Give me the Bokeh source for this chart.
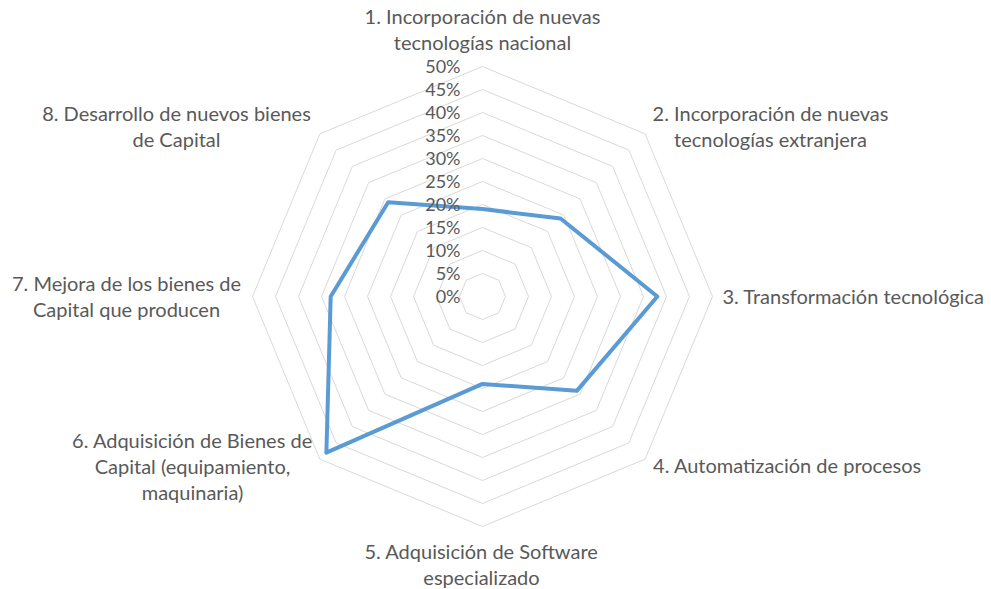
import math
from bokeh.plotting import figure
from bokeh.models import ColumnDataSource, Range1d
from bokeh.core.properties import value
from bokeh.embed import file_html
from bokeh.resources import INLINE

# ---- data ----
categories = [
    "1. Incorporación de nuevas\ntecnologías nacional",
    "2. Incorporación de nuevas\ntecnologías extranjera",
    "3. Transformación tecnológica",
    "4. Automatización de procesos",
    "5. Adquisición de Software\nespecializado",
    "6. Adquisición de Bienes de\nCapital (equipamiento,\nmaquinaria)",
    "7. Mejora de los bienes de\nCapital que producen",
    "8. Desarrollo de nuevos bienes\nde Capital",
]
values = [0.19, 0.24, 0.38, 0.29, 0.19, 0.48, 0.33, 0.29]
ring_levels = [0.05, 0.10, 0.15, 0.20, 0.25, 0.30, 0.35, 0.40, 0.45, 0.50]
tick_levels = [0.0, 0.05, 0.10, 0.15, 0.20, 0.25, 0.30, 0.35, 0.40, 0.45, 0.50]
tick_labels = ["0%", "5%", "10%", "15%", "20%", "25%", "30%", "35%", "40%", "45%", "50%"]

# ---- layout ----
W, H = 991, 589
CX, CY = 482, 296          # centre in screenshot pixels (from top-left)
PX_PER_UNIT = 460.0        # 0.5 -> 230 px
FONT = "Lato"
TXT = "#595959"
LINE_H = 26


def dx(X):
    return (X - CX) / PX_PER_UNIT


def dy(Y):
    return (CY - Y) / PX_PER_UNIT


p = figure(width=W, height=H, output_backend="svg", toolbar_location=None,
           min_border=0, min_border_left=0, min_border_right=0,
           min_border_top=0, min_border_bottom=0)
p.x_range = Range1d(dx(0), dx(W))
p.y_range = Range1d(dy(H), dy(0))
p.axis.visible = False
p.grid.visible = False
p.outline_line_color = None
p.background_fill_color = "white"
p.border_fill_color = "white"

n = len(categories)
angles = [2 * math.pi * i / n for i in range(n)]

# rings
xs, ys = [], []
for r in ring_levels:
    xs.append([r * math.sin(a) for a in angles] + [0.0])
    ys.append([r * math.cos(a) for a in angles] + [r])
p.multi_line(xs, ys, line_color="#d9d9d9", line_width=1)

# series
sx = [v * math.sin(a) for v, a in zip(values, angles)]
sy = [v * math.cos(a) for v, a in zip(values, angles)]
p.line(sx + [sx[0]], sy + [sy[0]], line_color="#5b9bd5", line_width=4,
       line_join="round")

# tick labels (right aligned, left of top spoke)
tsrc = ColumnDataSource(dict(x=[dx(CX - 22)] * len(tick_levels),
                             y=[t + 0.5 / PX_PER_UNIT for t in tick_levels],
                             t=tick_labels))
p.text(x="x", y="y", text="t", source=tsrc, text_align="right",
       text_baseline="middle", text_font=value(FONT), text_font_size="18px",
       text_color=TXT)

# category labels: block centres in screenshot pixels
label_px = [(482, 28), (770, 125), (853, 295), (787, 464),
            (481, 563), (192, 465), (126, 295), (176, 125)]
lxs, lys, lts = [], [], []
for cat, (X, Y) in zip(categories, label_px):
    lines = cat.split("\n")
    k = len(lines)
    for i, ln in enumerate(lines):
        lxs.append(dx(X))
        lys.append(dy(Y + (i - (k - 1) / 2) * LINE_H))
        lts.append(ln)
csrc = ColumnDataSource(dict(x=lxs, y=lys, t=lts))
p.text(x="x", y="y", text="t", source=csrc, text_align="center",
       text_baseline="middle", text_font=value(FONT), text_font_size="20px",
       text_color=TXT)

open("out.html", "w").write(file_html(p, INLINE))
